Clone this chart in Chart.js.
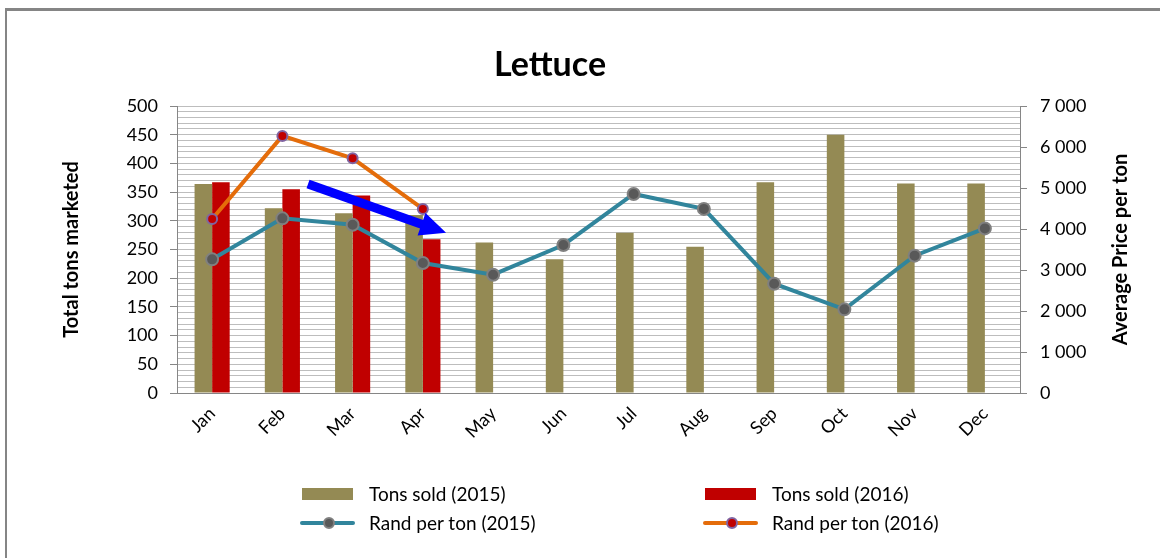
<!DOCTYPE html>
<html>
<head>
<meta charset="utf-8">
<script src="https://cdn.jsdelivr.net/npm/chart.js@4.4.0/dist/chart.umd.min.js"></script>
<style>
  html, body { margin: 0; padding: 0; background: #fff; overflow: hidden; }
  #wrap { position: relative; width: 1160px; height: 558px; font-family: Lato, sans-serif; }
  #frame { position: absolute; left: 5px; top: 8px; width: 2000px; height: 2000px;
           border-left: 2px solid #858585; border-top: 3px solid #858585; }
  #chart { position: absolute; left: 0; top: 0; }
  #title { position: absolute; left: 350px; width: 400px; top: 43px; text-align: center;
           font-size: 34px; font-weight: bold; line-height: 40px; }
  .leg { position: absolute; font-size: 19px; line-height: 22px; color: #000; white-space: nowrap; }
  .sw { position: absolute; }
</style>
</head>
<body>
<div id="wrap">
  <div id="frame"></div>
  <canvas id="chart" width="1160" height="558"></canvas>
  <div id="title">Lettuce</div>
  <div id="legend"></div>
</div>
<script>
const months = ['Jan','Feb','Mar','Apr','May','Jun','Jul','Aug','Sep','Oct','Nov','Dec'];
const tons2015 = [364, 322, 313, 310, 262, 233, 279, 255, 367, 450, 365, 365];
const tons2016 = [367, 355, 344, 268, null, null, null, null, null, null, null, null];
const rand2015 = [3260, 4260, 4105, 3170, 2885, 3610, 4855, 4490, 2665, 2040, 3350, 4015];
const rand2016 = [4245, 6270, 5725, 4490, null, null, null, null, null, null, null, null];
const tonsMax = 500, tonsStep = 50;
const randMax = 7000, randStep = 1000;
const rightTitle = 'Average Price per ton';
// annotation arrow, in [category index, tons] terms
const arrowFrom = [1.365, 364];
const arrowTo = [3.33, 279];

const grey = '#868686';
const tickFont = { family: 'Lato', size: 18 };
const titleFont = { family: 'Lato', size: 20, weight: 'bold' };
const spaced = v => String(v).replace(/\B(?=(\d{3})+(?!\d))/g, ' ');

const datasets = [
  { type: 'line', label: 'Rand per ton (2015)', data: rand2015, yAxisID: 'y1', order: 0,
    borderColor: '#31859C', borderWidth: 4, tension: 0,
    pointRadius: 6, pointBackgroundColor: '#595959', pointBorderColor: '#808080', pointBorderWidth: 2 },
  { type: 'line', label: 'Rand per ton (2016)', data: rand2016, yAxisID: 'y1', order: 0,
    borderColor: '#E46C0A', borderWidth: 4, tension: 0,
    pointRadius: 5, pointBackgroundColor: '#C00000', pointBorderColor: '#8064A2', pointBorderWidth: 2 },
  { type: 'bar', label: 'Tons sold (2015)', data: tons2015, yAxisID: 'y', order: 1,
    backgroundColor: '#948A54', categoryPercentage: 0.5, barPercentage: 1 },
  { type: 'bar', label: 'Tons sold (2016)', data: tons2016, yAxisID: 'y', order: 1,
    backgroundColor: '#C00000', categoryPercentage: 0.5, barPercentage: 1 }
];

const arrowPlugin = {
  id: 'arrow',
  afterDatasetsDraw(chart) {
    const { x, y } = chart.scales;
    const x0 = x.getPixelForValue(arrowFrom[0]), y0 = y.getPixelForValue(arrowFrom[1]);
    const x1 = x.getPixelForValue(arrowTo[0]), y1 = y.getPixelForValue(arrowTo[1]);
    const len = Math.hypot(x1 - x0, y1 - y0);
    const ux = (x1 - x0) / len, uy = (y1 - y0) / len;
    const px = -uy, py = ux;
    const head = 26, hw = 12, sw = 4.5;
    const bx = x1 - ux * head, by = y1 - uy * head;
    const ctx = chart.ctx;
    ctx.save();
    ctx.fillStyle = '#0000FF';
    ctx.beginPath();
    ctx.moveTo(x0 + px * sw, y0 + py * sw);
    ctx.lineTo(bx + px * sw, by + py * sw);
    ctx.lineTo(bx + px * hw, by + py * hw);
    ctx.lineTo(x1, y1);
    ctx.lineTo(bx - px * hw, by - py * hw);
    ctx.lineTo(bx - px * sw, by - py * sw);
    ctx.lineTo(x0 - px * sw, y0 - py * sw);
    ctx.closePath();
    ctx.fill();
    ctx.restore();
  }
};

// right axis title reads bottom-to-top like the left one
const rightTitlePlugin = {
  id: 'rightTitle',
  afterDraw(chart) {
    const s = chart.scales.y1;
    const ctx = chart.ctx;
    ctx.save();
    ctx.translate(s.right - 39, (s.top + s.bottom) / 2);
    ctx.rotate(-Math.PI / 2);
    ctx.font = `bold ${titleFont.size}px ${titleFont.family}`;
    ctx.fillStyle = '#000';
    ctx.textAlign = 'center';
    ctx.textBaseline = 'middle';
    ctx.fillText(rightTitle, 0, 0);
    ctx.restore();
  }
};

new Chart(document.getElementById('chart'), {
  type: 'bar',
  data: { labels: months, datasets },
  options: {
    responsive: false,
    animation: false,
    devicePixelRatio: 1,
    layout: { padding: { top: 106, left: 0, right: 0, bottom: 0 } },
    plugins: { legend: { display: false }, tooltip: { enabled: false } },
    scales: {
      x: {
        offset: true,
        grid: { display: false, tickLength: 8 },
        border: { display: true, color: grey },
        ticks: { color: '#000', font: { family: 'Lato', size: 18 }, minRotation: 45, maxRotation: 45, padding: 2 },
        afterFit: s => { s.height = 165; }
      },
      y: {
        position: 'left', min: 0, max: tonsMax,
        ticks: { stepSize: 10, autoSkip: false, color: '#000', font: tickFont, padding: 12,
                 callback: v => v % tonsStep === 0 ? v : '' },
        grid: { color: '#bdbdbd', tickLength: 7,
                tickColor: c => c.tick && c.tick.value % tonsStep === 0 ? grey : 'rgba(0,0,0,0)' },
        border: { color: grey },
        title: { display: true, text: 'Total tons marketed', color: '#000', font: titleFont,
                 padding: { top: 60, bottom: 0 } },
        afterFit: s => { s.width = 177; }
      },
      y1: {
        position: 'right', min: 0, max: randMax,
        ticks: { stepSize: randStep, color: '#000', font: tickFont, padding: 13, callback: v => spaced(v) },
        grid: { drawOnChartArea: false, tickLength: 7, color: grey },
        border: { color: grey },
        afterFit: s => { s.width = 140; }
      }
    }
  },
  plugins: [arrowPlugin, rightTitlePlugin]
});

// two-column legend under the plot
const legendOrder = [
  { ds: datasets[2], col: 0, row: 0 },
  { ds: datasets[3], col: 1, row: 0 },
  { ds: datasets[0], col: 0, row: 1 },
  { ds: datasets[1], col: 1, row: 1 }
];
const legend = document.getElementById('legend');
legendOrder.forEach(({ ds, col, row }) => {
  const left = 302 + col * 403, cy = 494 + row * 29;
  let html = '';
  if (ds.type === 'bar') {
    html += `<div class="sw" style="left:${left}px;top:${cy - 6}px;width:51px;height:12px;background:${ds.backgroundColor}"></div>`;
  } else {
    html += `<div class="sw" style="left:${left - 2}px;top:${cy - 2}px;width:55px;height:4px;border-radius:2px;background:${ds.borderColor}"></div>`;
    html += `<div class="sw" style="left:${left + 21}px;top:${cy - 6}px;width:8px;height:8px;border-radius:50%;background:${ds.pointBackgroundColor};border:2px solid ${ds.pointBorderColor}"></div>`;
  }
  html += `<div class="leg" style="left:${left + 67}px;top:${cy - 11}px">${ds.label}</div>`;
  legend.insertAdjacentHTML('beforeend', html);
});
</script>
</body>
</html>
